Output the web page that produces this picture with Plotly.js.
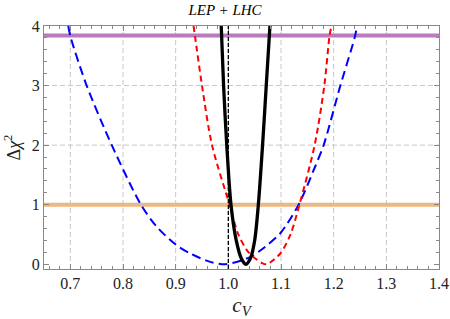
<!DOCTYPE html>
<html>
<head>
<meta charset="utf-8">
<script src="https://cdn.plot.ly/plotly-3.0.1.min.js"></script>
<style>html,body{margin:0;padding:0;background:#fff;}#chart{width:450px;height:319px;}</style>
</head>
<body>
<div id="chart"></div>
<script>
// Blue dashed curve
const blueCv = [0.696, 0.7007, 0.731, 0.7787, 0.834, 0.864, 0.9, 0.9276, 0.9656, 0.995, 1.0416, 1.0606, 1.0764, 1.0987, 1.1335, 1.1639, 1.181, 1.2127, 1.24, 1.2445];
const blueChi = [4.0, 3.81, 3.0, 2.0, 1.0, 0.63, 0.33, 0.18, 0.04, 0.0, 0.12, 0.23, 0.34, 0.52, 1.0, 1.62, 2.0, 3.0, 3.81, 4.0];
// Red dashed curve
const redCv = [0.934, 0.937, 0.95, 0.969, 1.0023, 1.019, 1.0384, 1.064, 1.0733, 1.0987, 1.118, 1.135, 1.1639, 1.1823, 1.1918, 1.1956];
const redChi = [4.0, 3.81, 3.0, 2.0, 1.0, 0.5, 0.2, 0.02, 0.0, 0.18, 0.5, 1.0, 2.0, 3.0, 3.81, 4.0];
// Black solid curve
const blackCv = [0.9865, 0.991, 0.997, 1.005, 1.015, 1.025, 1.0335, 1.042, 1.05, 1.057, 1.065, 1.072, 1.079];
const blackChi = [4.0, 3.0, 2.0, 1.0, 0.4, 0.09, 0.0, 0.1, 0.4, 1.0, 2.0, 3.0, 4.0];
// Reference levels
const cvSM = 1.0;
const level68 = 1.0;
const level95 = 3.84;
// Axis ticks
const xTicks = [0.7, 0.8, 0.9, 1.0, 1.1, 1.2, 1.3, 1.4];
const xTickText = ['0.7', '0.8', '0.9', '1.0', '1.1', '1.2', '1.3', '1.4'];
const yTicks = [0, 1, 2, 3, 4];
const yGrid = [1, 2, 3];
const xGrid = [0.7, 0.8, 0.9, 1.0, 1.1, 1.2, 1.3];

const serif = 'Liberation Serif';
const xRange = [0.65, 1.4];
const yRange = [-0.08, 4];

const traces = [
  {x: blueCv, y: blueChi, mode: 'lines', line: {color: '#0000ff', width: 2, dash: '9px,5px', shape: 'spline', smoothing: 0.8}, hoverinfo: 'skip'},
  {x: redCv, y: redChi, mode: 'lines', line: {color: '#ff0000', width: 2, dash: '6px,4px', shape: 'spline', smoothing: 0.8}, hoverinfo: 'skip'},
  {x: blackCv, y: blackChi, mode: 'lines', line: {color: '#000000', width: 3.3, shape: 'spline', smoothing: 0.8}, hoverinfo: 'skip'}
];

const axisCommon = {
  showline: true, linecolor: '#888', linewidth: 1, mirror: 'ticks',
  ticks: 'inside', ticklen: 5, tickcolor: '#888', tickwidth: 1,
  zeroline: false, showgrid: false,
  tickfont: {family: serif, size: 16, color: '#222'}
};

const layout = {
  width: 450, height: 319,
  margin: {l: 44, r: 11, t: 26, b: 50},
  paper_bgcolor: '#fff', plot_bgcolor: '#fff',
  showlegend: false,
  font: {family: serif},
  title: {text: '<i>LEP + LHC</i>', font: {family: serif, size: 15, color: '#000'}, x: 0.5, xref: 'container', y: 0.968, yref: 'container', yanchor: 'middle'},
  xaxis: Object.assign({}, axisCommon, {
    range: xRange, tickvals: xTicks, ticktext: xTickText,
    minor: {dtick: 0.02, tick0: 0.7, ticks: 'inside', ticklen: 3, tickcolor: '#888', showgrid: false},
    title: {text: '<i>c<sub>V</sub></i>', font: {family: serif, size: 21, color: '#222'}, standoff: 8}
  }),
  yaxis: Object.assign({}, axisCommon, {
    range: yRange, tickvals: yTicks,
    minor: {dtick: 0.2, tick0: 0, ticks: 'inside', ticklen: 3, tickcolor: '#888', showgrid: false},
    title: {text: 'Δ<i>χ</i><sup>2</sup>', font: {family: serif, size: 18, color: '#222'}, standoff: 6}
  }),
  shapes: []
};

// grid lines (dashed gray) built from grid arrays
xGrid.forEach(v => layout.shapes.push({type: 'line', layer: 'below', xref: 'x', yref: 'paper', x0: v, x1: v, y0: 0, y1: 1, line: {color: '#c8c8c8', width: 1, dash: '5px,3px'}}));
// bands
layout.shapes.push({type: 'line', layer: 'below', xref: 'paper', yref: 'y', x0: 0, x1: 1, y0: level95, y1: level95, line: {color: 'rgb(186,122,190)', width: 4}});
layout.shapes.push({type: 'line', layer: 'below', xref: 'paper', yref: 'y', x0: 0, x1: 1, y0: level68, y1: level68, line: {color: 'rgb(253,178,100)', width: 4}});
yGrid.forEach(v => layout.shapes.push({type: 'line', layer: 'below', xref: 'paper', yref: 'y', x0: 0, x1: 1, y0: v, y1: v, line: {color: '#c8c8c8', width: 1, dash: '5px,3px'}}));
// SM reference vertical dashed line
layout.shapes.push({type: 'line', layer: 'above', xref: 'x', yref: 'paper', x0: cvSM, x1: cvSM, y0: 0, y1: 1, line: {color: '#000', width: 1.3, dash: '4px,2px'}});

Plotly.newPlot('chart', traces, layout, {staticPlot: true, displayModeBar: false});
</script>
</body>
</html>
